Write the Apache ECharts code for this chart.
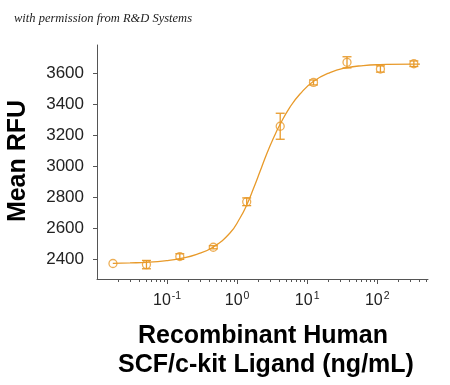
<!DOCTYPE html>
<html>
<head>
<meta charset="utf-8">
<script src="https://cdn.jsdelivr.net/npm/echarts@6/dist/echarts.min.js"></script>
<style>
html,body{margin:0;padding:0;background:#fff;}
#chart{width:450px;height:385px;}
</style>
</head>
<body>
<div id="chart"></div>
<script>
// ---- data ----
const doseX   = [0.0169, 0.0508, 0.152, 0.457, 1.37, 4.12, 12.3, 37.0, 111, 333];
const meanRFU = [2371, 2364, 2416, 2476, 2770, 3258, 3541, 3671, 3628, 3662];
const errRFU  = [0, 27, 18, 10, 25, 84, 16, 36, 20, 18];

// fitted curve
const fitX = [0.0168, 0.0296, 0.0512, 0.0989, 0.153, 0.265, 0.457, 0.79, 1.10, 1.37, 1.70, 2.12, 2.64, 3.28, 4.09, 5.68, 7.89, 12.2, 21.1, 36.6, 63.1, 109, 327, 407];
const fitY = [2372, 2375, 2379, 2390, 2403, 2430, 2478, 2568, 2665, 2749, 2852, 2965, 3079, 3179, 3269, 3382, 3466, 3547, 3605, 3636, 3650, 3656, 3660, 3660];

const yTickValues = [2400, 2600, 2800, 3000, 3200, 3400, 3600];
const xMajorTicks = [0.1, 1, 10, 100];
const xMinorTicks = [0.02,0.03,0.04,0.05,0.06,0.07,0.08,0.09,
                     0.2,0.3,0.4,0.5,0.6,0.7,0.8,0.9,
                     2,3,4,5,6,7,8,9,
                     20,30,40,50,60,70,80,90,
                     200,300,400,500];

const titleText = 'with permission from R&D Systems';
const yName = 'Mean RFU';
const xName1 = 'Recombinant Human';
const xName2 = 'SCF/c-kit Ligand (ng/mL)';

const C = '#E89A2A';
const AX = '#555';

const fitData = fitX.map((x, i) => [x, fitY[i]]);
const ptData = doseX.map((x, i) => [x, meanRFU[i]]);
const errData = doseX.map((x, i) => [x, meanRFU[i] - errRFU[i], meanRFU[i] + errRFU[i]]);

const chart = echarts.init(document.getElementById('chart'), null, {renderer: 'canvas'});
chart.setOption({
  animation: false,
  backgroundColor: '#fff',
  title: {
    text: titleText, left: 9, top: 7,
    textStyle: {fontFamily: 'Liberation Serif', fontStyle: 'italic', fontWeight: 'normal', fontSize: 12.5, color: '#222'}
  },
  grid: {left: 97, right: 22, top: 45, bottom: 106, containLabel: false},
  xAxis: [{
    type: 'log', logBase: 10, min: 0.01, max: 530,
    axisLine: {show: true, lineStyle: {color: AX, width: 1}},
    axisTick: {show: true, length: 5, lineStyle: {color: AX}, customValues: xMajorTicks},
    axisLabel: {
      show: true, margin: 12, customValues: xMajorTicks,
      formatter: function (v) {
        const e = Math.round(Math.log10(v));
        return '{b|10}{s|' + e + '}';
      },
      rich: {
        b: {fontFamily: 'Liberation Sans', fontSize: 16, color: '#222'},
        s: {fontFamily: 'Liberation Sans', fontSize: 10.5, color: '#222', padding: [0, 0, 8, 1]}
      }
    },
    splitLine: {show: false}
  }, {
    type: 'log', logBase: 10, min: 0.01, max: 530, gridIndex: 0, position: 'bottom',
    axisLine: {show: false},
    axisTick: {show: true, length: 3, lineStyle: {color: AX}, customValues: xMinorTicks},
    axisLabel: {show: false},
    splitLine: {show: false}
  }],
  yAxis: {
    type: 'value', min: 2271, max: 3783,
    axisLine: {show: true, lineStyle: {color: AX, width: 1}},
    axisTick: {show: true, length: 4, lineStyle: {color: AX}, customValues: yTickValues},
    axisLabel: {show: true, margin: 13, customValues: yTickValues, fontFamily: 'Liberation Sans', fontSize: 17, color: '#222',
      formatter: function (v) { return String(v); }},
    splitLine: {show: false}
  },
  series: [{
    type: 'line', data: fitData, smooth: 0.5, showSymbol: false, symbol: 'none',
    lineStyle: {color: C, width: 1.3}, z: 2
  }, {
    type: 'custom', data: errData, z: 3,
    renderItem: function (params, api) {
      const x = api.value(0), lo = api.value(1), hi = api.value(2);
      if (hi - lo < 1) return null;
      const t = api.coord([x, hi]), b = api.coord([x, lo]);
      const w = 4.5;
      const st = {stroke: C, lineWidth: 1.3};
      return {type: 'group', children: [
        {type: 'line', shape: {x1: t[0], y1: t[1], x2: b[0], y2: b[1]}, style: st},
        {type: 'line', shape: {x1: t[0] - w, y1: t[1], x2: t[0] + w, y2: t[1]}, style: st},
        {type: 'line', shape: {x1: b[0] - w, y1: b[1], x2: b[0] + w, y2: b[1]}, style: st}
      ]};
    }
  }, {
    type: 'scatter', data: ptData, symbol: 'circle', symbolSize: 8, z: 4,
    itemStyle: {color: 'rgba(255,255,255,0)', borderColor: C, borderWidth: 1.3}
  }],
  graphic: [{
    type: 'text', x: 18, y: 161, rotation: Math.PI / 2,
    style: {text: yName, font: 'bold 25px "Liberation Sans"', fill: '#000', align: 'center', verticalAlign: 'middle'}
  }, {
    type: 'text', x: 263, y: 336,
    style: {text: xName1, font: 'bold 25px "Liberation Sans"', fill: '#000', align: 'center', verticalAlign: 'middle'}
  }, {
    type: 'text', x: 266, y: 365,
    style: {text: xName2, font: 'bold 25px "Liberation Sans"', fill: '#000', align: 'center', verticalAlign: 'middle'}
  }]
});
</script>
</body>
</html>
